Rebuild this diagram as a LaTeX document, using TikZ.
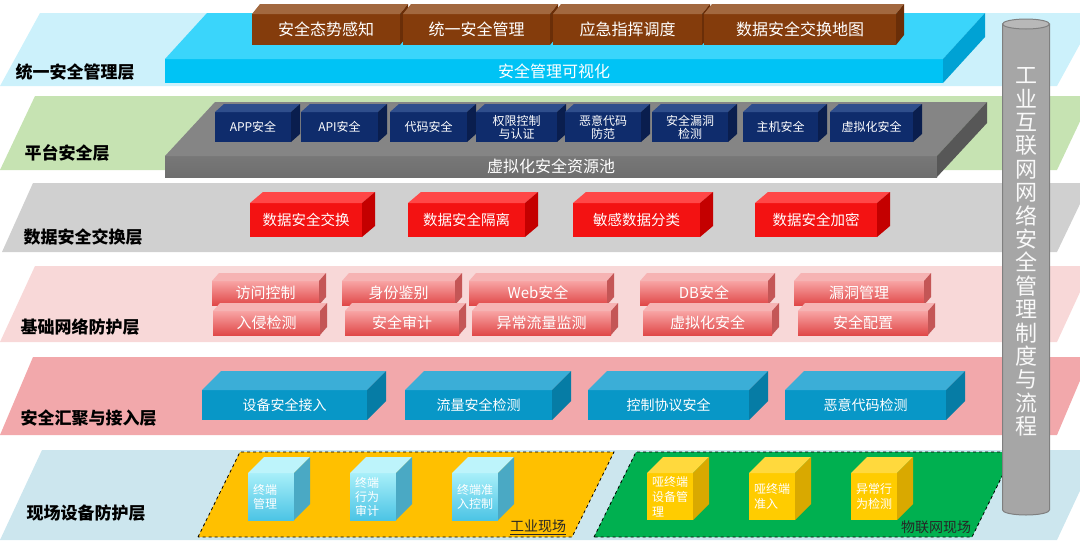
\documentclass[tikz,border=0pt]{standalone}
\usepackage{fontspec}
\setmainfont{Noto Sans CJK SC}
\usepackage{tikz}

\definecolor{cBandA}{HTML}{CCF1FB}
\definecolor{cBandB}{HTML}{C6E3B2}
\definecolor{cBandC}{HTML}{D0D0D0}
\definecolor{cBandD}{HTML}{F8D8D8}
\definecolor{cBandE}{HTML}{F2A8AB}
\definecolor{cBandF}{HTML}{CCE6EE}
\definecolor{cBrownF}{HTML}{843C0C}
\definecolor{cBrownT}{HTML}{A2683F}
\definecolor{cBrownS}{HTML}{6A2E08}
\definecolor{cCyanF}{HTML}{00C3F5}
\definecolor{cCyanT}{HTML}{3AD5FB}
\definecolor{cCyanS}{HTML}{00A2D4}
\definecolor{cGrayF}{HTML}{6E6E6E}
\definecolor{cGrayT}{HTML}{858585}
\definecolor{cGrayS}{HTML}{575757}
\definecolor{cNavyF}{HTML}{0F2C6C}
\definecolor{cNavyT}{HTML}{2F4E8C}
\definecolor{cNavyS}{HTML}{0A1E4E}
\definecolor{cRedF}{HTML}{F31212}
\definecolor{cRedT}{HTML}{FF4747}
\definecolor{cRedS}{HTML}{C40000}
\definecolor{cPinkA}{HTML}{F8A4A4}
\definecolor{cPinkB}{HTML}{E04848}
\definecolor{cPinkT}{HTML}{F6B3B3}
\definecolor{cPinkS}{HTML}{C45656}
\definecolor{cTealF}{HTML}{0897C7}
\definecolor{cTealT}{HTML}{3BAED7}
\definecolor{cTealS}{HTML}{067CA5}
\definecolor{cIceA}{HTML}{A8EFF9}
\definecolor{cIceB}{HTML}{4CC4E5}
\definecolor{cIceT}{HTML}{BDF4FB}
\definecolor{cIceS}{HTML}{4AA9C4}
\definecolor{cGoldF}{HTML}{FFCC00}
\definecolor{cGoldT}{HTML}{FFD93D}
\definecolor{cGoldS}{HTML}{D9A900}
\definecolor{cZoneY}{HTML}{FFC000}
\definecolor{cZoneG}{HTML}{00B050}
\definecolor{cCylF}{HTML}{A6A6A6}
\definecolor{cCylT}{HTML}{B8B8B8}
\definecolor{cCylD}{HTML}{7F7F7F}

% top and side faces of a block whose front is node #1
\newcommand\boxfaces[4]{%
  \fill[#4top] (#1.north west) -- ([shift={(#2,#3)}]#1.north west)
    -- ([shift={(#2,#3)}]#1.north east) -- (#1.north east) -- cycle;
  \fill[#4side] (#1.north east) -- ([shift={(#2,#3)}]#1.north east)
    -- ([shift={(#2,#3)}]#1.south east) -- (#1.south east) -- cycle;}

\begin{document}
\begin{tikzpicture}[x = 1pt, y = -1pt,
    face/.style = {outer sep = 0pt, inner sep = 1pt, text = white, align = center},
    layername/.style = {anchor = west, font = \fontsize{17}{17}\selectfont\bfseries},
    brownbox/.style = {face, fill = cBrownF, minimum height = 31pt, font = \fontsize{16}{16}\selectfont},
    browntop/.style = {fill = cBrownT}, brownside/.style = {fill = cBrownS},
    cyanbox/.style = {face, fill = cCyanF, minimum height = 24pt, font = \fontsize{16}{16}\selectfont},
    cyantop/.style = {fill = cCyanT}, cyanside/.style = {fill = cCyanS},
    graybox/.style = {face, top color = cGrayT!90!black, bottom color = cGrayF, minimum height = 21pt, font = \fontsize{16}{16}\selectfont},
    graytop/.style = {fill = cGrayT}, grayside/.style = {fill = cGrayS},
    navybox/.style = {face, fill = cNavyF, minimum height = 30pt, font = \fontsize{12}{13}\selectfont},
    navytop/.style = {fill = cNavyT}, navyside/.style = {fill = cNavyS},
    redbox/.style = {face, fill = cRedF, minimum height = 34pt, font = \fontsize{14.5}{15}\selectfont},
    redtop/.style = {fill = cRedT}, redside/.style = {fill = cRedS},
    pinkbox/.style = {face, top color = cPinkA, bottom color = cPinkB, minimum height = 24pt, font = \fontsize{15}{15}\selectfont},
    pinktop/.style = {fill = cPinkT}, pinkside/.style = {fill = cPinkS},
    tealbox/.style = {face, fill = cTealF, minimum height = 30pt, font = \fontsize{14}{14}\selectfont},
    tealtop/.style = {fill = cTealT}, tealside/.style = {fill = cTealS},
    icebox/.style = {face, align = left, text width = 36pt, inner xsep = 5pt, top color = cIceA, bottom color = cIceB,
                     minimum height = 47pt, font = \fontsize{12}{14}\selectfont},
    icetop/.style = {fill = cIceT}, iceside/.style = {fill = cIceS},
    goldbox/.style = {face, align = left, text width = 36pt, inner xsep = 5pt, fill = cGoldF,
                      minimum height = 47pt, font = \fontsize{12}{15}\selectfont},
    goldtop/.style = {fill = cGoldT}, goldside/.style = {fill = cGoldS},
    zone/.style = {draw = black, dashed, line width = 0.8pt},
    zonename/.style = {font = \fontsize{14}{14}\selectfont, text = black!85}]

  \useasboundingbox (0, 0) rectangle (1080, 544);
  \clip (0, 0) rectangle (1080, 544);

  % layer bands
  \fill[cBandA] (0, 86) -- (40, 13) -- (1097, 13) -- (1057, 86) -- cycle;
  \fill[cBandB] (0, 170) -- (35, 96) -- (1092, 96) -- (1057, 170) -- cycle;
  \fill[cBandC] (2, 252) -- (33, 183) -- (1090, 183) -- (1057, 252) -- cycle;
  \fill[cBandD] (0, 342) -- (35, 266) -- (1092, 266) -- (1057, 342) -- cycle;
  \fill[cBandE] (0, 435) -- (33, 357) -- (1090, 357) -- (1057, 435) -- cycle;
  \fill[cBandF] (0, 540) -- (42, 450) -- (1099, 450) -- (1057, 540) -- cycle;

  \node[layername] (l1) at (12, 72){统一安全管理层};
  \node[layername] (l2) at (21, 153){平台安全层};
  \node[layername] (l3) at (20, 237){数据安全交换层};
  \node[layername] (l4) at (17, 327){基础网络防护层};
  \node[layername] (l5) at (17, 418){安全汇聚与接入层};
  \node[layername] (l6) at (23, 513){现场设备防护层};

  % unified management
  \node[cyanbox, minimum width = 778pt] (visual) at (554, 71){安全管理可视化};
  \boxfaces{visual}{42}{-46}{cyan}
  \node[brownbox, minimum width = 148pt] (situation) at (326, 29.5){安全态势感知};
  \boxfaces{situation}{8}{-10}{brown}
  \node[brownbox, minimum width = 147pt] (unified) at (476.5, 29.5){统一安全管理};
  \boxfaces{unified}{8}{-10}{brown}
  \node[brownbox, minimum width = 149pt] (dispatch) at (627.5, 29.5){应急指挥调度};
  \boxfaces{dispatch}{8}{-10}{brown}
  \node[brownbox, minimum width = 192pt] (datamap) at (800, 29.5){数据安全交换地图};
  \boxfaces{datamap}{8}{-10}{brown}

  % platform
  \node[graybox, minimum width = 772pt] (pool) at (551, 166.5){虚拟化安全资源池};
  \boxfaces{pool}{50}{-54}{gray}
  \node[navybox, minimum width = 76pt] (app) at (253, 127){APP安全};
  \boxfaces{app}{9}{-8}{navy}
  \node[navybox, minimum width = 77pt] (api) at (339.5, 127){API安全};
  \boxfaces{api}{9}{-8}{navy}
  \node[navybox, minimum width = 77pt] (code) at (428.5, 127){代码安全};
  \boxfaces{code}{9}{-8}{navy}
  \node[navybox, minimum width = 81pt] (auth) at (516.5, 127){权限控制\\与认证};
  \boxfaces{auth}{9}{-8}{navy}
  \node[navybox, minimum width = 76pt] (malware) at (603, 127){恶意代码\\防范};
  \boxfaces{malware}{9}{-8}{navy}
  \node[navybox, minimum width = 76pt] (vuln) at (690, 127){安全漏洞\\检测};
  \boxfaces{vuln}{9}{-8}{navy}
  \node[navybox, minimum width = 75pt] (host) at (780.5, 127){主机安全};
  \boxfaces{host}{9}{-8}{navy}
  \node[navybox, minimum width = 83pt] (virt) at (871.5, 127){虚拟化安全};
  \boxfaces{virt}{9}{-8}{navy}

  % data exchange
  \node[redbox, minimum width = 112pt] (exch) at (306, 220){数据安全交换};
  \boxfaces{exch}{13}{-11}{red}
  \node[redbox, minimum width = 117pt] (isol) at (466.5, 220){数据安全隔离};
  \boxfaces{isol}{13}{-11}{red}
  \node[redbox, minimum width = 127pt] (classify) at (636.5, 220){敏感数据分类};
  \boxfaces{classify}{13}{-11}{red}
  \node[redbox, minimum width = 122pt] (encrypt) at (816, 220){数据安全加密};
  \boxfaces{encrypt}{13}{-11}{red}

  % network protection
  \node[pinkbox, minimum width = 107pt] (access) at (265.5, 293){访问控制};
  \boxfaces{access}{7}{-8}{pink}
  \node[pinkbox, minimum width = 113pt] (ident) at (398.5, 293){身份鉴别};
  \boxfaces{ident}{7}{-8}{pink}
  \node[pinkbox, minimum width = 138pt] (web) at (538, 293){Web安全};
  \boxfaces{web}{7}{-8}{pink}
  \node[pinkbox, minimum width = 128pt] (db) at (704, 293){DB安全};
  \boxfaces{db}{7}{-8}{pink}
  \node[pinkbox, minimum width = 130pt] (holes) at (859, 293){漏洞管理};
  \boxfaces{holes}{7}{-8}{pink}
  \node[pinkbox, minimum width = 107pt] (ids) at (266.5, 323){入侵检测};
  \boxfaces{ids}{7}{-8}{pink}
  \node[pinkbox, minimum width = 114pt] (audit) at (402, 323){安全审计};
  \boxfaces{audit}{7}{-8}{pink}
  \node[pinkbox, minimum width = 139pt] (traffic) at (541.5, 323){异常流量监测};
  \boxfaces{traffic}{7}{-8}{pink}
  \node[pinkbox, minimum width = 129pt] (vmsec) at (707.5, 323){虚拟化安全};
  \boxfaces{vmsec}{7}{-8}{pink}
  \node[pinkbox, minimum width = 130pt] (config) at (863, 323){安全配置};
  \boxfaces{config}{7}{-8}{pink}

  % aggregation and access
  \node[tealbox, minimum width = 165pt] (devacc) at (284.5, 405){设备安全接入};
  \boxfaces{devacc}{19}{-19}{teal}
  \node[tealbox, minimum width = 147pt] (flow) at (478.5, 405){流量安全检测};
  \boxfaces{flow}{19}{-19}{teal}
  \node[tealbox, minimum width = 161pt] (proto) at (668.5, 405){控制协议安全};
  \boxfaces{proto}{19}{-19}{teal}
  \node[tealbox, minimum width = 161pt] (mcode) at (865.5, 405){恶意代码检测};
  \boxfaces{mcode}{19}{-19}{teal}

  % field devices
  \filldraw[zone, fill = cZoneY] (198, 537) -- (240, 452) -- (614, 452) -- (572, 537) -- cycle;
  \filldraw[zone, fill = cZoneG] (594, 537) -- (636, 452) -- (1014, 452) -- (972, 537) -- cycle;
  \node[zonename] (industry) at (538, 527){\underline{工业现场}};
  \node[zonename] (iot) at (936, 527){物联网现场};

  \node[icebox] (term) at (271, 496.5){终端\\管理};
  \boxfaces{term}{16}{-16}{ice}
  \node[icebox] (behav) at (373, 496.5){终端\\行为\\审计};
  \boxfaces{behav}{16}{-16}{ice}
  \node[icebox] (admit) at (475, 496.5){终端准\\入控制};
  \boxfaces{admit}{16}{-16}{ice}
  \node[goldbox] (dumbdev) at (670, 496.5){哑终端\\设备管\\理};
  \boxfaces{dumbdev}{16}{-16}{gold}
  \node[goldbox] (dumbacc) at (772, 496.5){哑终端\\准入};
  \boxfaces{dumbacc}{16}{-16}{gold}
  \node[goldbox] (anomaly) at (874, 496.5){异常行\\为检测};
  \boxfaces{anomaly}{16}{-16}{gold}

  % management system pillar
  \filldraw[fill = cCylF, draw = cCylD, line width = 1pt]
    (1002.5, 24) -- (1002.5, 510) arc[start angle = 180, end angle = 0, x radius = 23.5, y radius = 5]
    -- (1049.5, 24) -- cycle;
  \filldraw[fill = cCylT, draw = cCylD, line width = 1pt] (1026, 24) ellipse[x radius = 23.5, y radius = 5];
  \node[align = center, text = white!95!gray, font = \fontsize{22}{23.4}\selectfont] (policy) at (1026, 252)
    {工\\业\\互\\联\\网\\网\\络\\安\\全\\管\\理\\制\\度\\与\\流\\程};
\end{tikzpicture}
\end{document}
